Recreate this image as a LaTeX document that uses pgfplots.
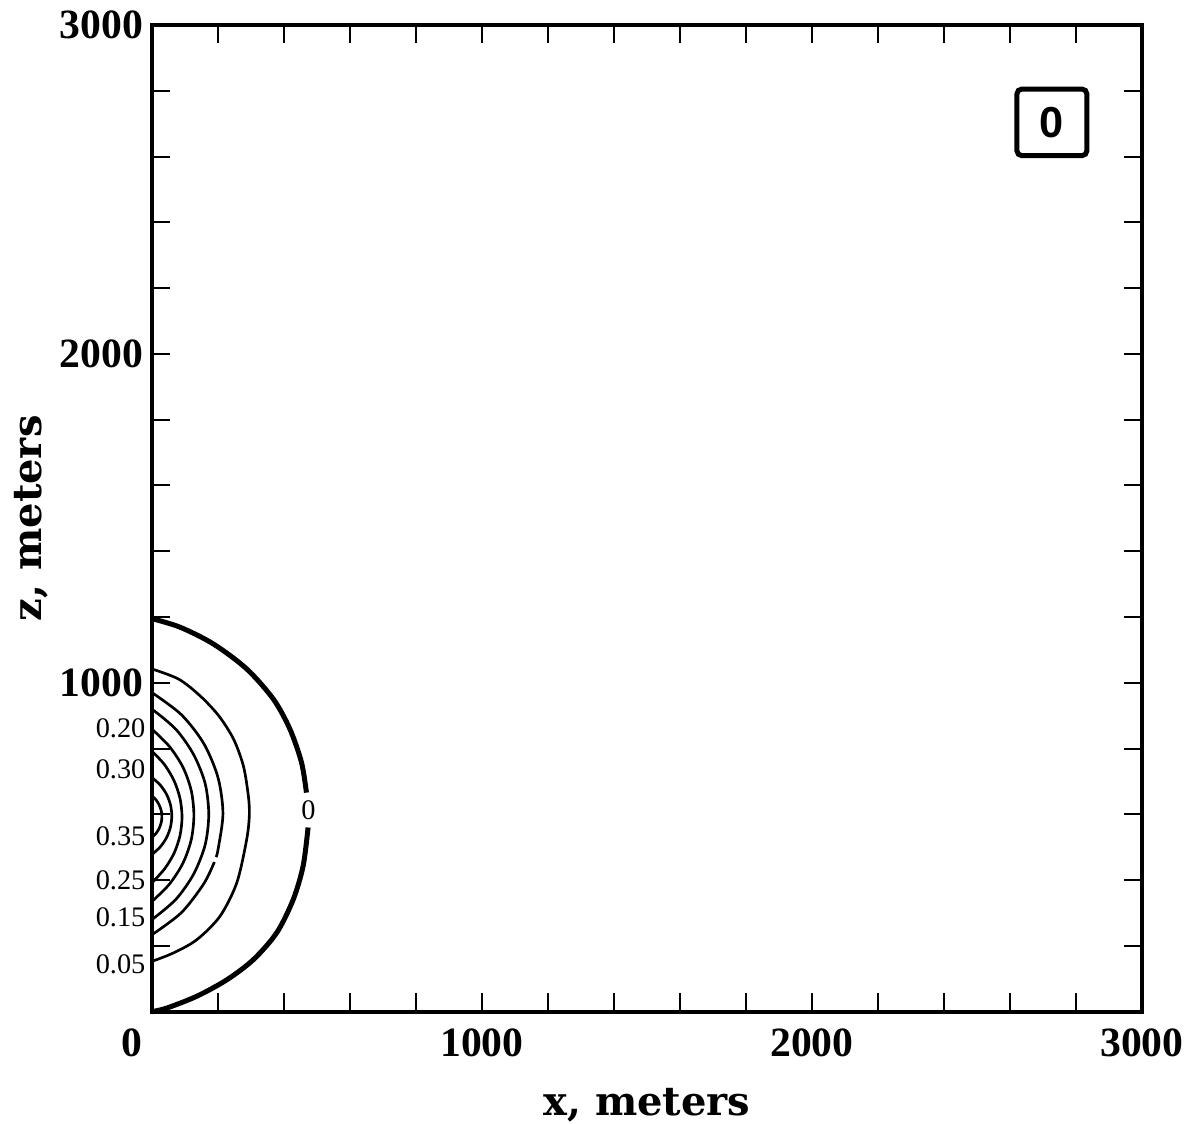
\documentclass[border=0pt]{standalone}
\usepackage{fontspec}
\setmainfont{DejaVu Serif}
\newfontfamily\numfont{Liberation Serif}
\newfontfamily\boxfont{Liberation Sans}
\usepackage{pgfplots}
\pgfplotsset{compat=1.18}

\begin{document}
\begin{tikzpicture}
\begin{axis}[
  name=ax,
  scale only axis,
  width=297pt, height=296pt,
  xmin=0, xmax=3000, ymin=0, ymax=3000,
  xtick={0,1000,2000,3000},
  ytick={0,1000,2000,3000},
  xticklabels={\makebox[0pt][r]{0\hspace{3pt}},1000,2000,3000},
  yticklabels={,1000,2000,3000},
  minor tick num=4,
  tick align=inside,
  major tick length=5.5pt, minor tick length=5.5pt,
  tick style={line width=0.6pt, black},
  axis line style={line width=1.2pt},
  ticklabel style={font=\numfont\bfseries\fontsize{12.5}{14}\selectfont, inner sep=0pt},
  xticklabel shift=4.8pt, yticklabel shift=2.5pt,
  xlabel={x, meters}, ylabel={z, meters},
  label style={font=\fontsize{12}{14}\selectfont\bfseries, inner sep=0pt},
  xlabel shift=9.5pt, ylabel shift=3.4pt,
  clip=false,
]
% contour 0 (thick, broken for its label)
\addplot[black, line width=1.5pt, smooth] coordinates {
(0,1195) (85,1169) (186,1118) (287,1042) (368,950) (418,859) (453,758) (468,666)};
\addplot[black, line width=1.5pt, smooth] coordinates {
(473,560) (458,443) (428,341) (378,240) (307,158) (227,97) (136,47) (45,11) (0,0)};
% 0.05
\addplot[black, line width=0.8pt, smooth] coordinates {
(0,1042) (81,1011) (146,960) (202,900) (247,829) (277,747) (292,656) (295,598)
(287,524) (257,392) (206,290) (136,219) (66,179) (0,153)};
% 0.10
\addplot[black, line width=0.8pt, smooth] coordinates {
(0,970) (89,903) (157,815) (200,712) (215,602) (200,492) (194,470)};
\addplot[black, line width=0.8pt, smooth] coordinates {
(189,455) (157,389) (89,301) (0,234)};
% 0.15
\addplot[black, line width=0.8pt, smooth] coordinates {
(0,920) (72,859) (126,782) (161,694) (172,600) (161,507) (126,418) (72,341) (0,280)};
% 0.20
\addplot[black, line width=0.8pt, smooth] coordinates {
(0,859) (53,806) (94,743) (119,672) (127,597) (119,523) (94,452) (53,388) (0,335)};
% 0.25
\addplot[black, line width=0.8pt, smooth] coordinates {
(0,792) (38,751) (67,702) (85,648) (91,592) (85,536) (67,482) (38,434) (0,392)};
% 0.30
\addplot[black, line width=0.8pt, smooth] coordinates {
(0,712) (25,689) (44,661) (56,629) (60,595) (56,561) (44,529) (25,501) (0,478)};
% 0.35
\addplot[black, line width=0.8pt, smooth] coordinates {
(0,656) (13,643) (22,628) (28,611) (30,593) (28,575) (22,558) (13,543) (0,530)};

\node[font=\numfont\fontsize{8.5}{9}\selectfont, inner sep=0pt] at (axis cs:474,612) {0};
\begin{scope}[every node/.style={anchor=east, inner sep=0pt, font=\numfont\fontsize{8.5}{9}\selectfont}]
\node at (axis cs:-18,862) {0.20};
\node at (axis cs:-18,737) {0.30};
\node at (axis cs:-18,533) {0.35};
\node at (axis cs:-18,399) {0.25};
\node at (axis cs:-18,286) {0.15};
\node at (axis cs:-18,143) {0.05};
\end{scope}
\node[draw, line width=1.5pt, rounded corners=1.5pt, minimum width=21pt,
  minimum height=20pt, inner sep=0pt,
  font=\boxfont\bfseries\fontsize{13}{15}\selectfont] at (axis cs:2727,2704) {0};
\end{axis}
\path ([xshift=-45.6pt,yshift=-33.6pt]ax.south west) rectangle ([xshift=13.5pt,yshift=7.5pt]ax.north east);
\end{tikzpicture}
\end{document}
